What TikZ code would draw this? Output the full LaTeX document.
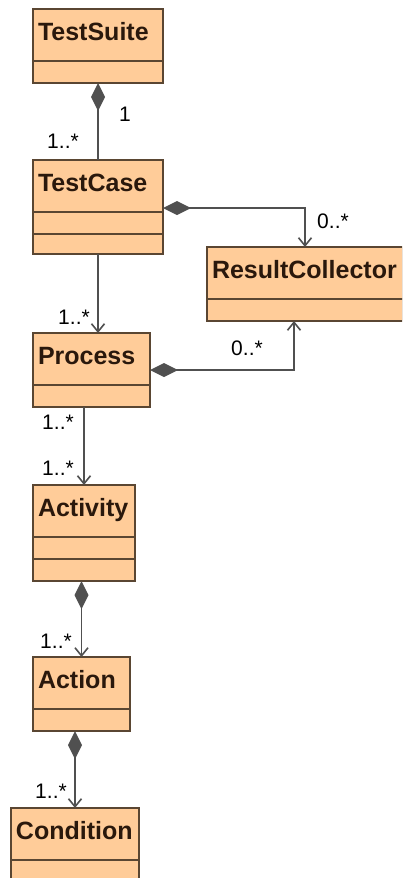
\documentclass[tikz,border=0pt]{standalone}
\usepackage{fontspec}
\setmainfont{Liberation Sans}
\usetikzlibrary{positioning,arrows.meta}

\definecolor{clsfill}{HTML}{FFCC99}
\definecolor{clsline}{HTML}{5A4632}
\definecolor{clstext}{HTML}{2A180C}
\definecolor{conline}{HTML}{505050}

\tikzset{
  clsname/.style={draw=clsline, fill=clsfill, line width=1.4pt, anchor=north west,
    outer sep=0pt, inner xsep=5pt, minimum height=52pt, text height=18pt, text depth=8pt,
    align=left, text=clstext, font=\bfseries\fontsize{25}{28}\selectfont},
  clspart/.style={draw=clsline, fill=clsfill, line width=1.4pt, outer sep=0pt,
    inner sep=0pt, minimum height=22pt, minimum width=#1},
  conn/.style={draw=conline, line width=1.6pt},
  whole/.style={{Diamond[length=28pt,width=14pt,fill=conline]}-},
  part/.style={-{Straight Barb[length=8pt,width=13pt]}},
  whpart/.style={{Diamond[length=28pt,width=14pt,fill=conline]}-{Straight Barb[length=8pt,width=13pt]}},
  mult/.style={text=black, inner sep=0pt, font=\fontsize{21}{24}\selectfont}
}

\begin{document}
\begin{tikzpicture}[x=1pt,y=-1pt]

  \useasboundingbox (0,0) rectangle (402,878);
  \clip (0,0) rectangle (402,878);
  \fill[white] (0,0) rectangle (402,878);

  % TestSuite
  \node[clsname, text width=120pt] (suite) at (33,9) {TestSuite};
  \node[clspart=130pt, below=0pt of suite] (suiteA) {};

  % TestCase
  \node[clsname, text width=120pt] (case) at (33,160) {TestCase};
  \node[clspart=130pt, below=0pt of case] (caseA) {};
  \node[clspart=130pt, minimum height=20pt, below=0pt of caseA] (caseB) {};

  % ResultCollector
  \node[clsname, text width=186pt] (rc) at (207,247) {ResultCollector};
  \node[clspart=196pt, below=0pt of rc] (rcA) {};

  % Process
  \node[clsname, text width=107pt] (proc) at (33,333) {Process};
  \node[clspart=117pt, below=0pt of proc] (procA) {};

  % Activity
  \node[clsname, text width=92pt] (act) at (33,485) {Activity};
  \node[clspart=102pt, below=0pt of act] (actA) {};
  \node[clspart=102pt, below=0pt of actA] (actB) {};

  % Action
  \node[clsname, text width=87pt] (action) at (33,657) {Action};
  \node[clspart=97pt, below=0pt of action] (actionA) {};

  % Condition
  \node[clsname, text width=118pt] (cond) at (11,808) {Condition};
  \node[clspart=128pt, below=0pt of cond] (condA) {};

  % connectors
  \draw[conn, whole] (suiteA.south) -- (case.north);
  \draw[conn, part] (caseB.south) -- (caseB.south |- proc.north);
  \draw[conn, whpart] ([yshift=-22pt]case.east) -| (rc.north);
  \draw[conn, whpart] ([yshift=-11pt]proc.east) -| ([xshift=-11pt]rcA.south);
  \draw[conn, part] (procA.south -| act.north) -- (act.north);
  \draw[conn, whpart] (actB.south -| action.north) -- (action.north);
  \draw[conn, whpart] (actionA.south -| cond.north) -- (cond.north);

  % multiplicities
  \node[mult] (m1) at (125,114) {1};
  \node[mult] (m2) at (63,141) {1..*};
  \node[mult] (m3) at (333,221) {0..*};
  \node[mult] (m4) at (74,317) {1..*};
  \node[mult] (m5) at (247,348) {0..*};
  \node[mult] (m6) at (58,422) {1..*};
  \node[mult] (m7) at (58,468) {1..*};
  \node[mult] (m8) at (56,641) {1..*};
  \node[mult] (m9) at (51,791) {1..*};

\end{tikzpicture}
\end{document}
